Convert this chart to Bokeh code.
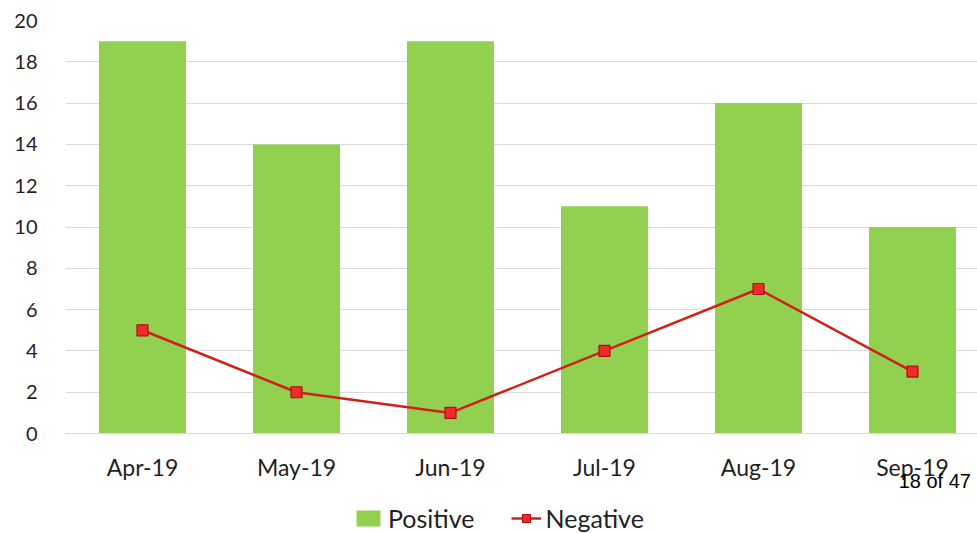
from bokeh.plotting import figure
from bokeh.models import Range1d, FixedTicker, Legend, LegendItem, Label, ColumnDataSource
from bokeh.embed import file_html
from bokeh.resources import INLINE

months = ["Apr-19", "May-19", "Jun-19", "Jul-19", "Aug-19", "Sep-19"]
positive = [19, 14, 19, 11, 16, 10]
negative = [5, 2, 1, 4, 7, 3]
y_ticks = [0, 2, 4, 6, 8, 10, 12, 14, 16, 18, 20]

xs = [i + 0.5 for i in range(len(months))]
src = ColumnDataSource(dict(x=xs, pos=positive, neg=negative))

FONT = "Lato"
p = figure(width=977, height=533, output_backend="svg", toolbar_location=None,
           x_range=Range1d(0, 5.922), y_range=Range1d(-4.84, 20),
           min_border_left=65, min_border_right=0, min_border_top=20, min_border_bottom=0)
p.outline_line_color = None

bars = p.vbar(x="x", top="pos", bottom=0, width=0.565, source=src, color="#92d050", line_color=None)
ln = p.line(x="x", y="neg", source=src, line_color="#d0201a", line_width=2.5)
mk = p.scatter(x="x", y="neg", source=src, marker="square", size=11,
               fill_color="#ee2b2b", line_color="#b01010", line_width=1.2)

p.xaxis.fixed_location = 0
p.xaxis.ticker = FixedTicker(ticks=xs)
p.xaxis.major_label_overrides = {x: m for x, m in zip(xs, months)}
p.yaxis.ticker = FixedTicker(ticks=y_ticks)
for ax in (p.xaxis, p.yaxis):
    ax.major_tick_line_color = None
    ax.minor_tick_line_color = None
    ax.major_label_text_font = FONT
    ax.major_label_text_color = "#1f1f1f"
p.xaxis.major_label_text_font_size = "23px"
p.yaxis.major_label_text_font_size = "20px"
p.xaxis.axis_line_color = "#d9d9d9"
p.xaxis.major_label_standoff = 13
p.yaxis.axis_line_color = None
p.yaxis.major_label_standoff = 22
p.xgrid.grid_line_color = None
p.ygrid.grid_line_color = "#d9d9d9"
p.ygrid.ticker = FixedTicker(ticks=y_ticks)

legend = Legend(items=[LegendItem(label="Positive", renderers=[bars]),
                       LegendItem(label="Negative", renderers=[ln, mk])],
                orientation="horizontal", location=(288, 0),
                label_text_font=FONT, label_text_font_size="25px", label_text_color="#1f1f1f",
                glyph_width=30, glyph_height=20, spacing=36, border_line_color=None,
                background_fill_alpha=0, margin=0, padding=4)
p.add_layout(legend, "center")

p.add_layout(Label(x=5.41, y=-2.28, text="18 of 47", text_font="Liberation Sans",
                   text_font_size="20px", text_color="#000000", text_baseline="middle"))

open("out.html", "w").write(file_html(p, INLINE))
